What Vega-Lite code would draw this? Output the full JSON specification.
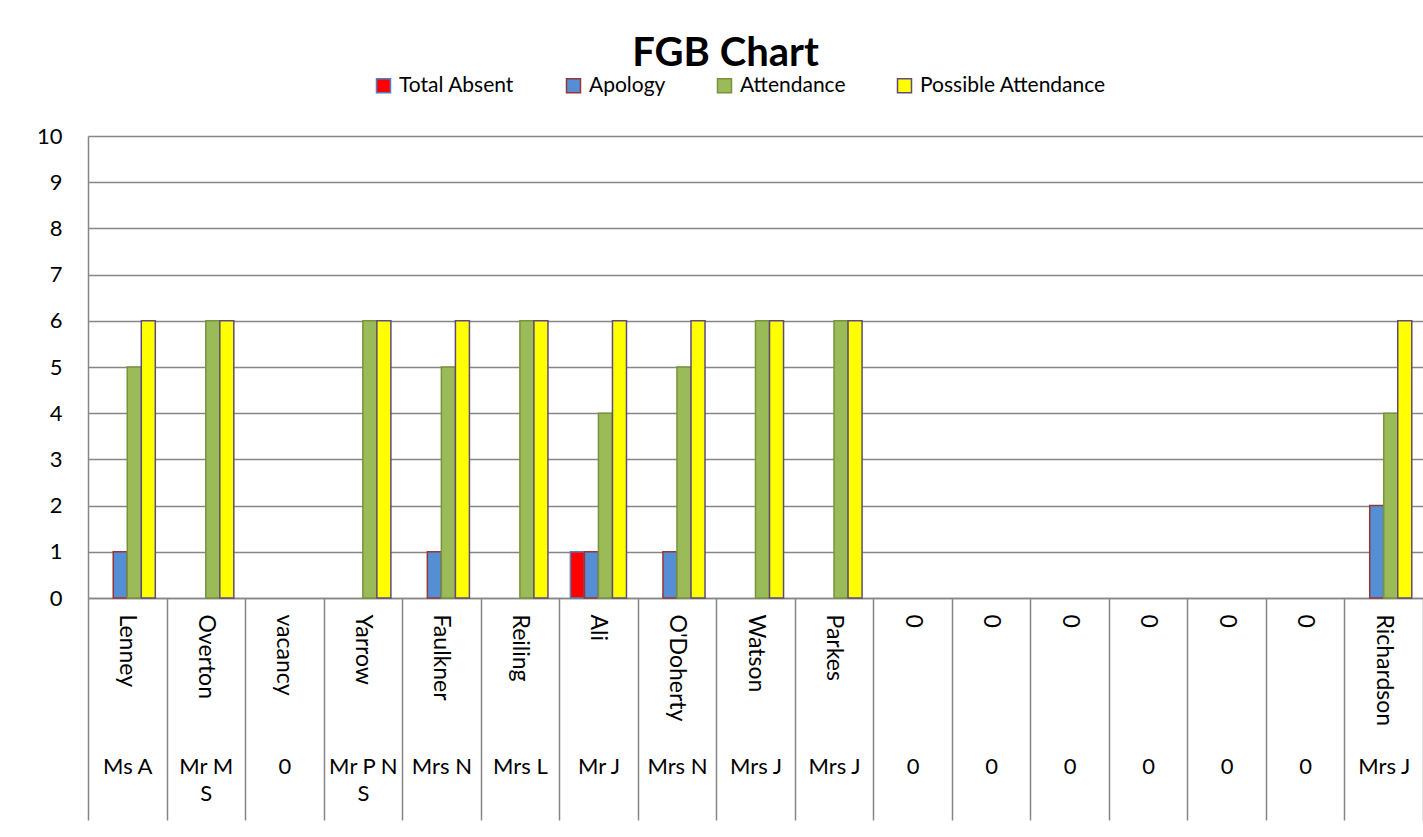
{
  "$schema": "https://vega.github.io/schema/vega-lite/v6.json",
  "width": 1335,
  "height": 462,
  "autosize": {"type": "none"},
  "padding": {"left": 88, "top": 136, "right": 0, "bottom": 239},
  "background": "white",
  "config": {
    "font": "Lato",
    "view": {"stroke": null},
    "axis": {"labelFont": "Lato", "labelFontSize": 22, "labelColor": "#000000", "domainColor": "#868686", "domainWidth": 1.5, "tickColor": "#868686", "tickWidth": 1.5, "gridColor": "#868686", "gridWidth": 1.3}
  },
  "title": {"text": "FGB Chart", "font": "Lato", "fontSize": 40, "fontWeight": "bold", "color": "#000000", "anchor": "middle", "frame": "group", "dx": -30, "offset": -30},
  "data": {
    "values": [
      {"cat": "01|Lenney|Ms A", "series": "Apology", "value": 1},
      {"cat": "01|Lenney|Ms A", "series": "Attendance", "value": 5},
      {"cat": "01|Lenney|Ms A", "series": "Possible Attendance", "value": 6},
      {"cat": "02|Overton|Mr M,S", "series": "Attendance", "value": 6},
      {"cat": "02|Overton|Mr M,S", "series": "Possible Attendance", "value": 6},
      {"cat": "04|Yarrow|Mr P N,S", "series": "Attendance", "value": 6},
      {"cat": "04|Yarrow|Mr P N,S", "series": "Possible Attendance", "value": 6},
      {"cat": "05|Faulkner|Mrs N", "series": "Apology", "value": 1},
      {"cat": "05|Faulkner|Mrs N", "series": "Attendance", "value": 5},
      {"cat": "05|Faulkner|Mrs N", "series": "Possible Attendance", "value": 6},
      {"cat": "06|Reiling|Mrs L", "series": "Attendance", "value": 6},
      {"cat": "06|Reiling|Mrs L", "series": "Possible Attendance", "value": 6},
      {"cat": "07|Ali|Mr J", "series": "Total Absent", "value": 1},
      {"cat": "07|Ali|Mr J", "series": "Apology", "value": 1},
      {"cat": "07|Ali|Mr J", "series": "Attendance", "value": 4},
      {"cat": "07|Ali|Mr J", "series": "Possible Attendance", "value": 6},
      {"cat": "08|O'Doherty|Mrs N", "series": "Apology", "value": 1},
      {"cat": "08|O'Doherty|Mrs N", "series": "Attendance", "value": 5},
      {"cat": "08|O'Doherty|Mrs N", "series": "Possible Attendance", "value": 6},
      {"cat": "09|Watson|Mrs J", "series": "Attendance", "value": 6},
      {"cat": "09|Watson|Mrs J", "series": "Possible Attendance", "value": 6},
      {"cat": "10|Parkes|Mrs J", "series": "Attendance", "value": 6},
      {"cat": "10|Parkes|Mrs J", "series": "Possible Attendance", "value": 6},
      {"cat": "17|Richardson|Mrs J", "series": "Apology", "value": 2},
      {"cat": "17|Richardson|Mrs J", "series": "Attendance", "value": 4},
      {"cat": "17|Richardson|Mrs J", "series": "Possible Attendance", "value": 6}
    ]
  },
  "layer": [
    {
      "mark": {"type": "bar", "strokeWidth": 1.5},
      "encoding": {
        "x": {
          "field": "cat", "type": "nominal", "sort": null,
          "scale": {"domain": ["01|Lenney|Ms A", "02|Overton|Mr M,S", "03|vacancy|0", "04|Yarrow|Mr P N,S", "05|Faulkner|Mrs N", "06|Reiling|Mrs L", "07|Ali|Mr J", "08|O'Doherty|Mrs N", "09|Watson|Mrs J", "10|Parkes|Mrs J", "11|0|0", "12|0|0", "13|0|0", "14|0|0", "15|0|0", "16|0|0", "17|Richardson|Mrs J"], "paddingInner": 0, "paddingOuter": 0},
          "axis": {"orient": "bottom", "title": null, "labelExpr": "split(datum.label, '|')[1]", "labelAngle": 90, "labelAlign": "left", "labelBaseline": "middle", "ticks": false, "labelPadding": 16, "grid": false, "labelOverlap": false, "labelFontSize": 23}
        },
        "xOffset": {
          "field": "series", "type": "nominal",
          "scale": {"domain": ["Total Absent", "Apology", "Attendance", "Possible Attendance"], "paddingInner": 0, "paddingOuter": 0.8}
        },
        "y": {
          "field": "value", "type": "quantitative",
          "scale": {"domain": [0, 10], "nice": false},
          "axis": {"title": null, "values": [0, 1, 2, 3, 4, 5, 6, 7, 8, 9, 10], "ticks": false, "labelPadding": 26, "grid": true, "domain": true}
        },
        "color": {
          "field": "series", "type": "nominal",
          "scale": {"domain": ["Total Absent", "Apology", "Attendance", "Possible Attendance"], "range": ["#FF0000", "#558ED5", "#9BBB59", "#FFFF00"]},
          "legend": {"orient": "none", "legendX": 285, "legendY": -61, "direction": "horizontal", "title": null, "symbolType": "square", "symbolSize": 196, "symbolStrokeWidth": 1.5, "labelFont": "Lato", "labelFontSize": 21, "labelColor": "#000000", "labelOffset": 5, "labelLimit": 400, "columnPadding": 48, "padding": 0}
        },
        "stroke": {
          "field": "series", "type": "nominal",
          "scale": {"domain": ["Total Absent", "Apology", "Attendance", "Possible Attendance"], "range": ["#4F81BD", "#953735", "#77933C", "#604A7B"]},
          "legend": {"orient": "none", "legendX": 285, "legendY": -61, "direction": "horizontal", "title": null, "symbolType": "square", "symbolSize": 196, "symbolStrokeWidth": 1.5, "labelFont": "Lato", "labelFontSize": 21, "labelColor": "#000000", "labelOffset": 5, "labelLimit": 400, "columnPadding": 48, "padding": 0}
        }
      }
    },
    {
      "mark": {"type": "bar", "opacity": 0},
      "encoding": {
        "x": {
          "field": "cat", "type": "nominal", "sort": null,
          "axis": {"orient": "bottom", "title": null, "labelExpr": "isValid(datum.value) ? split(split(datum.label, '|')[2], ',') : ''", "labelAngle": 0, "labelAlign": "center", "labelBaseline": "top", "tickSize": 222, "tickBand": "extent", "domain": false, "labelPadding": -64, "labelLineHeight": 27, "grid": false, "labelOverlap": false, "labelFontSize": 22}
        },
        "y": {"field": "value", "type": "quantitative"}
      }
    }
  ],
  "resolve": {"axis": {"x": "independent"}}
}
